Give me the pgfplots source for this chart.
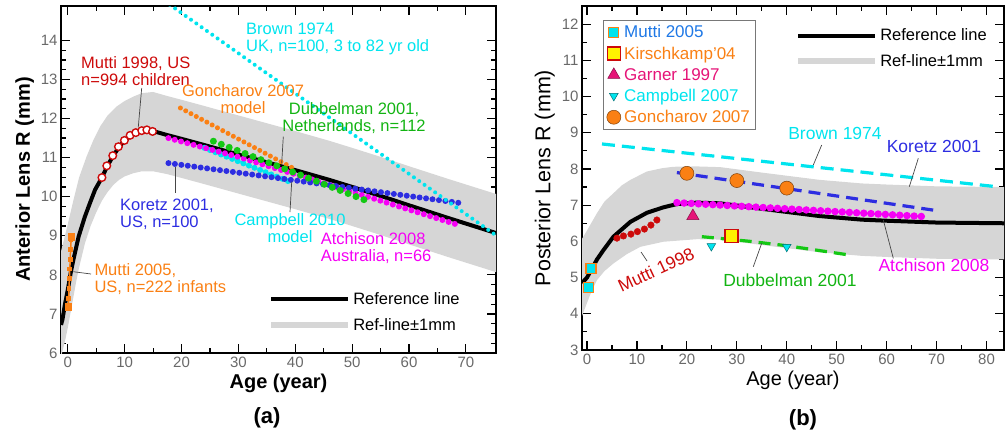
\documentclass[border=0pt]{standalone}
\usepackage{fontspec}
\setmainfont{Liberation Sans}
\usepackage{pgfplots}
\pgfplotsset{compat=1.18}

\definecolor{bandgray}{RGB}{214,214,214}
\definecolor{tickgray}{RGB}{105,105,105}
\definecolor{mycyan}{RGB}{0,228,238}
\definecolor{myorange}{RGB}{250,128,20}
\definecolor{mygreen}{RGB}{20,200,20}
\definecolor{myblue}{RGB}{45,45,225}
\definecolor{mymagenta}{RGB}{245,0,245}
\definecolor{mydarkred}{RGB}{205,10,10}
\definecolor{garner}{RGB}{230,20,120}
\definecolor{muttiblue}{RGB}{30,120,230}
\definecolor{leader}{RGB}{70,70,70}
\definecolor{boxgray}{RGB}{120,120,120}

\pgfplotsset{
  lensax/.style={
    scale only axis,
    axis line style={line width=1.5pt},
    tick style={line width=1.2pt, black},
    major tick length=9pt, minor tick length=5pt,
    tick align=inside, tick pos=both,
    ticklabel style={font=\fontsize{15}{15}\selectfont, text=tickgray},
    /pgf/number format/assume math mode=true,
    label style={font=\fontsize{20}{20}\selectfont},
  },
  dots/.style 2 args={line width=#1, dash pattern=on 0pt off #2, line cap=round},
  refleg/.style={
    legend cell align=left,
    legend image code/.code={\draw[##1] (0pt,0pt) -- (77pt,0pt);},
    legend style={draw=none, fill=none, inner sep=0pt,
      font=\fontsize{16.5}{16.5}\selectfont, row sep=8pt},
  },
}

\begin{document}
\begin{tikzpicture}
\useasboundingbox (0pt,0pt) rectangle (1005pt,-436pt);

% ---------------- (a) anterior lens radius ----------------
\begin{axis}[lensax, refleg,
  at={(61pt,-353pt)}, anchor=south west,
  width=435pt, height=347pt,
  xmin=-1.2, xmax=75.3, ymin=6, ymax=14.88,
  xtick={0,10,...,70}, minor x tick num=1,
  ytick={6,7,...,14}, minor y tick num=3,
  xlabel={\bfseries Age (year)}, ylabel={\bfseries Anterior Lens R (mm)},
  legend style={at={(0.476,0.18)}, anchor=north west},
]
% band
\addplot[fill=bandgray, draw=none, forget plot] coordinates {
(-1.2,8.6) (0,9.3) (1,9.92) (2,10.5) (3.3,11.03) (4.5,11.45) (5.7,11.8)
(7,12.08) (8.6,12.31) (10,12.45) (11.5,12.56) (13,12.65) (15,12.68)
(17.4,12.58) (20,12.48) (23.8,12.33) (30,12.08) (35,11.88) (40,11.68)
(46,11.43) (50,11.25) (55,11.02) (60,10.78) (67,10.45) (75.3,10.07)
(75.3,8.07) (67,8.45) (60,8.78) (55,9.02) (50,9.25) (46,9.43) (40,9.68)
(35,9.88) (30,10.08) (23.8,10.33) (20,10.48) (17.4,10.58) (15,10.65)
(13,10.65) (11.5,10.6) (10,10.52) (9,10.43) (8,10.3) (7,10.12) (6,9.9)
(5,9.6) (4,9.25) (3,8.8) (2,8.2) (1.5,7.85) (1,7.45) (0.5,7.05) (0,6.65)
(-0.5,6.3) (-1.2,5.9)} -- cycle;
% reference line
\addplot[black, line width=4pt] coordinates {
(-1.2,6.72) (-0.95,6.85) (-0.5,7.25) (0,7.62) (0.5,8.05) (1,8.4) (1.9,8.98)
(3,9.49) (4,9.88) (4.8,10.18) (6,10.49) (7,10.8) (8,11.05) (9,11.27)
(10,11.44) (11,11.57) (12,11.64) (13,11.69) (14,11.71) (15,11.68)
(17.4,11.58) (20,11.48) (23.8,11.33) (30,11.08) (35,10.88) (40,10.68)
(46,10.43) (50,10.25) (55,10.02) (60,9.78) (67,9.45) (75.3,9.07)};
\addlegendentry{Reference line}
\addlegendimage{bandgray, line width=6pt}
\addlegendentry{Ref-line±1mm}
% Campbell 2010 model
\addplot[mycyan, dots={6pt}{6pt}, forget plot] coordinates {(24,11.25) (39.4,10.36)};
% Atchison 2008
\addplot[mymagenta, dots={6pt}{6.5pt}, forget plot] coordinates {
(17.7,11.5) (29.7,11.03) (45,10.35) (68.6,9.28)};
% Koretz 2001
\addplot[myblue, dots={6pt}{6.5pt}, forget plot] coordinates {(17.7,10.86) (68.9,9.84)};
% Goncharov 2007 model
\addplot[myorange, dots={5pt}{6pt}, forget plot] coordinates {(19.8,12.27) (39.6,10.73)};
% Dubbelman 2001
\addplot[mygreen, dots={7pt}{8.5pt}, forget plot] coordinates {(25.6,11.42) (52.5,9.9)};
% Brown 1974
\addplot[mycyan, dots={4pt}{6.5pt}, forget plot] coordinates {(3,16.45) (82,8.32)};
% Mutti 2005
\addplot[myorange, line width=1.5pt, mark=square*, mark size=1.6pt, forget plot] coordinates {
(0.1,7.18) (0.15,7.4) (0.2,7.65) (0.28,7.9) (0.35,8.15) (0.42,8.4) (0.5,8.65)
(0.58,8.9) (0.62,8.98)};
\addplot[myorange, only marks, mark=square*, mark size=3.3pt, forget plot] coordinates {
(0.1,7.18) (0.62,8.98)};
% Mutti 1998
\addplot[only marks, mark=*, mark size=3.8pt, forget plot,
  mark options={fill=white, draw=mydarkred, line width=1.4pt}] coordinates {
(6.0,10.49) (6.85,10.79) (7.9,11.05) (8.9,11.28) (9.95,11.44) (10.95,11.57)
(11.95,11.64) (13.0,11.69) (13.9,11.71) (14.9,11.67)};
\end{axis}

% ---------------- (b) posterior lens radius ----------------
\begin{axis}[lensax, refleg,
  at={(582pt,-350pt)}, anchor=south west,
  width=422pt, height=344pt,
  xmin=-1, xmax=83.5, ymin=3, ymax=12.5,
  xtick={0,10,...,80}, minor x tick num=1,
  ytick={3,4,...,12}, minor y tick num=1,
  xlabel={Age (year)}, ylabel={Posterior Lens R (mm)},
  ylabel style={font=\fontsize{21.5}{21.5}\selectfont},
  legend style={at={(0.505,0.94)}, anchor=north west},
]
\addplot[fill=bandgray, draw=none, forget plot] coordinates {
(-1.3,6.0) (0,6.3) (2,6.78) (3.5,7.1) (5.3,7.33) (7,7.55) (8.7,7.7) (12,7.93)
(15,8.02) (17.3,8.06) (22,8.07) (26.7,8.05) (35,7.9) (46.5,7.7) (55,7.6)
(60,7.57) (70,7.52) (83.5,7.5)
(83.5,5.5) (70,5.52) (60,5.57) (55,5.6) (46.5,5.7) (35,5.9) (26.7,6.05)
(22,6.06) (15.3,5.99) (10.7,5.85) (8,5.65) (5.3,5.39) (3.5,5.18) (2,4.93)
(1,4.65) (0,4.3) (-1.3,3.83)} -- cycle;
\addplot[black, line width=4pt] coordinates {
(-1,4.85) (0,5.0) (1,5.25) (2,5.5) (3.3,5.76) (5.3,6.13) (8.7,6.54) (12,6.79)
(15.3,6.94) (18,7.03) (22,7.07) (26.7,7.05) (35,6.9) (46.5,6.7) (55,6.6)
(60,6.57) (70,6.52) (83.5,6.5)};
\addlegendentry{Reference line}
\addlegendimage{bandgray, line width=6pt}
\addlegendentry{Ref-line±1mm}
\end{axis}

\begin{axis}[hide axis, scale only axis,
  at={(582pt,-350pt)}, anchor=south west,
  width=422pt, height=344pt,
  xmin=-1, xmax=83.5, ymin=3, ymax=12.5,
  legend cell align=left,
  legend image code/.code={\path (0pt,0pt) (15pt,0pt); \draw[#1] plot coordinates {(7pt,0pt)};},
  legend style={at={(0.0498,0.959)}, anchor=north west, draw=boxgray,
    fill=white, line width=0.8pt, font=\fontsize{17}{17}\selectfont,
    row sep=3.5pt, inner xsep=3pt, inner ysep=3pt},
]
% Brown 1974
\addplot[mycyan, line width=3.2pt, dash pattern=on 13pt off 7pt, forget plot]
  coordinates {(3,8.69) (82,7.51)};
% Koretz 2001
\addplot[myblue, line width=3.2pt, dash pattern=on 12pt off 7pt, forget plot]
  coordinates {(18,7.9) (70,6.85)};
% Dubbelman 2001
\addplot[mygreen, line width=3.2pt, dash pattern=on 12pt off 7pt, forget plot]
  coordinates {(23,6.13) (32.7,6.0) (40,5.88) (52.7,5.62)};
% Atchison 2008
\addplot[mymagenta, dots={7.5pt}{7.2pt}, forget plot]
  coordinates {(18,7.07) (68,6.68)};
% Mutti 1998
\addplot[only marks, mark=*, mark size=3.3pt, mydarkred, forget plot] coordinates {
(6.0,6.09) (7.3,6.15) (8.8,6.2) (10.1,6.27) (11.5,6.34) (12.8,6.45) (14.0,6.59)};
% markers
\addplot[only marks, mark=square*, mark size=5pt,
  mark options={fill=mycyan, draw=myorange, line width=1.3pt}]
  coordinates {(0.3,4.73) (0.8,5.26)};
\addlegendentry{\textcolor{muttiblue}{Mutti 2005}}
\addplot[only marks, mark=square*, mark size=6.5pt,
  mark options={fill=yellow, draw=mydarkred, line width=1.6pt}]
  coordinates {(28.9,6.15)};
\addlegendentry{\textcolor{myorange}{Kirschkamp'04}}
\addplot[only marks, mark=triangle*, mark size=7pt,
  mark options={fill=garner, draw=garner!60!black, line width=0.5pt}]
  coordinates {(21.2,6.7)};
\addlegendentry{\textcolor{garner}{Garner 1997}}
\addplot[only marks, mark=triangle*, mark size=5pt,
  mark options={fill=mycyan, draw=mycyan!50!black, line width=0.5pt, rotate=180}]
  coordinates {(24.9,5.87) (40,5.85)};
\addlegendentry{\textcolor{mycyan}{Campbell 2007}}
\addplot[only marks, mark=*, mark size=7pt,
  mark options={fill=myorange, draw=myorange!50!black, line width=0.5pt}]
  coordinates {(20,7.88) (30,7.68) (40,7.47)};
\addlegendentry{\textcolor{myorange}{Goncharov 2007}}
\end{axis}

% ---------------- annotations ----------------
\begin{scope}[every node/.style={font=\fontsize{16.5}{17}\selectfont, inner sep=0pt}]
\node[mydarkred, align=left, anchor=west] at (81pt,-71pt) {Mutti 1998, US\\n=994 children};
\draw[leader, line width=0.7pt] (141.7pt,-88pt) -- (138.3pt,-127pt);
\node[myorange, align=center] at (243pt,-99pt) {Goncharov 2007\\model};
\node[mycyan, align=left, anchor=west] at (246pt,-38.5pt) {Brown 1974\\UK, n=100, 3 to 82 yr old};
\node[mygreen!90!black, align=center] at (354pt,-118pt) {Dubbelman 2001,\\Netherlands, n=112};
\draw[leader, line width=0.7pt] (283.3pt,-136.7pt) -- (281.7pt,-163.3pt);
\node[myblue, align=left, anchor=west] at (120pt,-214.5pt) {Koretz 2001,\\US, n=100};
\draw[leader, line width=0.7pt] (175pt,-167pt) -- (175pt,-193pt);
\node[mycyan, align=center] at (290pt,-228.5pt) {Campbell 2010\\model};
\draw[leader, line width=0.7pt] (291.7pt,-181.7pt) -- (290pt,-212pt);
\node[mymagenta, align=left, anchor=west] at (320.7pt,-248pt) {Atchison 2008\\Australia, n=66};
\node[myorange, align=left, anchor=west] at (94.3pt,-279.5pt) {Mutti 2005,\\US, n=222 infants};
\draw[leader, line width=0.7pt] (73.3pt,-271.7pt) -- (91pt,-274pt);
% (b)
\node[mydarkred, rotate=25, font=\fontsize{17.5}{17.5}\selectfont] at (656pt,-270pt) {Mutti 1998};
\draw[leader, line width=0.7pt] (641pt,-252pt) -- (647pt,-261pt);
\node[mygreen!90!black, font=\fontsize{17.5}{17.5}\selectfont] at (790pt,-280pt) {Dubbelman 2001};
\draw[leader, line width=0.7pt] (761.7pt,-243.3pt) -- (753.3pt,-266.7pt);
\node[mymagenta, font=\fontsize{17.5}{17.5}\selectfont] at (934pt,-265pt) {Atchison 2008};
\draw[leader, line width=0.7pt] (883.3pt,-220pt) -- (893.3pt,-258.3pt);
\node[mycyan, font=\fontsize{17.5}{17.5}\selectfont] at (835pt,-133pt) {Brown 1974};
\draw[leader, line width=0.7pt] (821.7pt,-145pt) -- (813.3pt,-165pt);
\node[myblue, font=\fontsize{17.5}{17.5}\selectfont] at (934pt,-146pt) {Koretz 2001};
\draw[leader, line width=0.7pt] (918.3pt,-158.3pt) -- (909.3pt,-186.7pt);
\end{scope}
\node[font=\fontsize{22}{22}\selectfont\bfseries] at (267pt,-418pt) {(a)};
\node[font=\fontsize{22}{22}\selectfont\bfseries] at (803pt,-420pt) {(b)};
\end{tikzpicture}
\end{document}
